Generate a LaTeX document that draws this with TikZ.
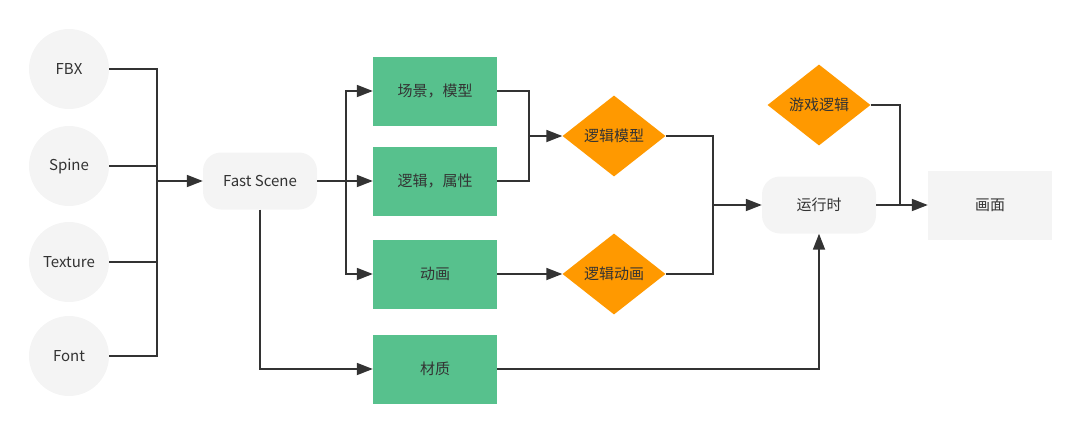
\documentclass[tikz,border=0pt]{standalone}
\usepackage{fontspec}
\setmainfont{Noto Sans CJK SC}
\usepackage{tikz}
\usetikzlibrary{arrows.meta}
\usetikzlibrary{shapes.geometric}
\usetikzlibrary{calc}
\definecolor{boxgreen}{HTML}{57C18D}
\definecolor{diaorange}{HTML}{FF9900}
\definecolor{softgray}{HTML}{F4F4F4}
\definecolor{linegray}{HTML}{333333}

\begin{document}
\begin{tikzpicture}[
    x=1pt, y=-1pt,
    font=\fontsize{15}{17}\selectfont,
    text=linegray,
    circ/.style={
        circle,
        fill=softgray,
        minimum size=80pt,
        inner sep=0pt
    },
    rect/.style={
        rectangle,
        fill=boxgreen,
        minimum height=69pt,
        minimum width=124pt,
        inner sep=0pt
    },
    rnd/.style={
        rectangle,
        rounded corners=18pt,
        fill=softgray,
        minimum height=57pt,
        minimum width=114pt,
        inner sep=0pt
    },
    dia/.style={
        diamond,
        fill=diaorange,
        aspect=1.26,
        minimum width=103pt,
        minimum height=81pt,
        inner sep=0pt
    },
    plain/.style={
        rectangle,
        fill=softgray,
        minimum height=69pt,
        minimum width=124pt,
        inner sep=0pt
    },
    link/.style={
        draw=linegray,
        line width=1.8pt
    },
    arr/.style={
        link,
        -{Triangle[length=16pt,width=12pt]}
    }
]
\useasboundingbox (0,0) rectangle (1080,432);
% --- 输入资源 ---
\node[circ] (fbx) at (69,69) {FBX};
\node[circ] (spine) at (69,166) {Spine};
\node[circ] (texture) at (69,262) {Texture};
\node[circ] (font) at (69,356) {Font};
% --- 中间节点 ---
\node[rnd] (fast) at (260,181) {Fast Scene};
\node[rect] (scene) at (435,91) {场景，模型};
\node[rect] (attr) at (435,181) {逻辑，属性};
\node[rect] (anim) at (435,274) {动画};
\node[rect] (mat) at (435,369) {材质};
\node[dia] (lmod) at (614,136) {逻辑模型};
\node[dia] (lanim) at (614,274) {逻辑动画};
\node[dia] (game) at (819,105) {游戏逻辑};
\node[rnd] (run) at (819,205) {运行时};
\node[plain] (screen) at (990,205) {画面};
% 汇合点
\coordinate (busA) at (157,181);
\coordinate (busB) at (346,181);
\coordinate (busC) at (529,136);
\coordinate (busD) at (713,205);
\coordinate (busE) at (900,205);
% --- 连线 ---
\draw[link] (fbx.east) -| (busA);
\draw[link] (spine.east) -| (busA);
\draw[link] (texture.east) -| (busA);
\draw[link] (font.east) -| (busA);
\draw[arr] (busA) -- (fast.west);
\draw[link] (fast.east) -- (busB);
\draw[arr] (busB) |- (scene.west);
\draw[arr] (busB) -- (attr.west);
\draw[arr] (busB) |- (anim.west);
\draw[arr] (fast.south) |- (mat.west);
\draw[link] (scene.east) -| (busC);
\draw[link] (attr.east) -| (busC);
\draw[arr] (busC) -- (lmod.west);
\draw[arr] (anim.east) -- (lanim.west);
\draw[link] (lmod.east) -| (busD);
\draw[link] (lanim.east) -| (busD);
\draw[arr] (busD) -- (run.west);
\draw[arr] (mat.east) -| (run.south);
\draw[link] (game.east) -| (busE);
\draw[link] (run.east) -- (busE);
\draw[arr] (busE) -- (screen.west);
\end{tikzpicture}
\end{document}
